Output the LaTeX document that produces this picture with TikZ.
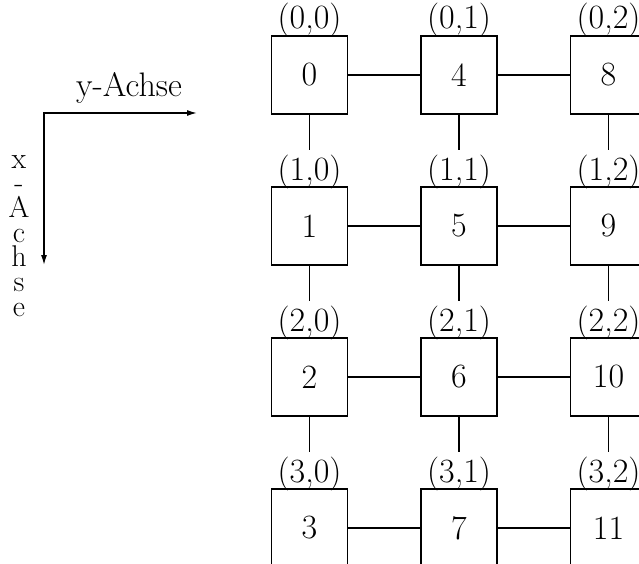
\documentclass[tikz,border=0pt]{standalone}
\usetikzlibrary{arrows.meta}
\begin{document}
\begin{tikzpicture}[x=1pt,y=-1pt,
  font=\fontsize{34}{40}\selectfont,
  pe/.style={draw, line width=1.1pt, minimum width=76pt, minimum height=78pt, inner sep=0pt, outer sep=0pt},
  coordlab/.style={anchor=base, inner sep=0pt, outer ysep=4.5pt},
  link/.style={line width=1.1pt},
  axis/.style={line width=1.4pt, {Latex[length=10pt,width=6pt]}-{Latex[length=10pt,width=6pt]}},
  stackletter/.style={anchor=base, inner sep=0pt, font=\fontsize{30}{30}\selectfont},
]
\useasboundingbox (0,0) rectangle (639,564);
\clip (0,0) rectangle (639,564);
% processor grid
\foreach \r in {0,...,3}{
  \foreach \c in {0,1,2}{
    \pgfmathtruncatemacro\n{4*\c+\r}
    \node[pe] (b\r\c) at ({309.5+149.5*\c},{75+151*\r}) {\n};
    \node[coordlab] (l\r\c) at ([yshift=7pt]b\r\c.north) {(\r,\c)};
  }
}
% horizontal links
\foreach \r in {0,...,3}{
  \draw[link] (b\r0.east) -- (b\r1.west);
  \draw[link] (b\r1.east) -- (b\r2.west);
}
% vertical links
\foreach \r/\s in {0/1,1/2,2/3}{
  \foreach \c in {0,1,2}{
    \draw[link] (b\r\c.south) -- (l\s\c.north);
  }
}
% axes
\coordinate (o) at (44,113);
\coordinate (ye) at (197,113);
\coordinate (xe) at (44,265);
\draw[axis] (ye) -- (o) -- (xe);
\node[anchor=base, inner sep=0pt] (ylab) at (129,97) {y-Achse};
\foreach \t [count=\i from 0] in {x,-,A,c,h,s,e}{
  \node[stackletter] (xl\i) at (19,{168+24.7*\i}) {\t};
}
\end{tikzpicture}
\end{document}
